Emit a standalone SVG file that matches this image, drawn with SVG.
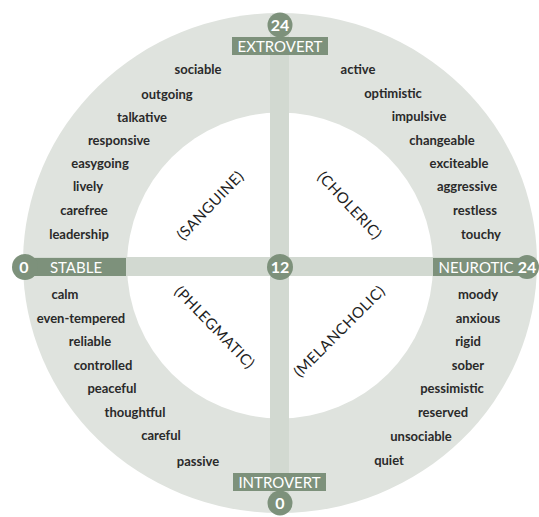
<svg xmlns="http://www.w3.org/2000/svg" width="539" height="517" viewBox="0 0 539 517">
<style>
.w{font-family:Lato,"Open Sans",sans-serif;font-size:13px;font-weight:bold;fill:#2a2a2a;text-anchor:middle}
.q{font-family:Lato,"Open Sans",sans-serif;font-size:15px;fill:#1e1e1e;text-anchor:middle;letter-spacing:0.5px}
.lab{font-family:Lato,"Open Sans",sans-serif;font-size:15px;fill:#fff;text-anchor:middle}
.num{font-family:Lato,"Open Sans",sans-serif;font-size:16px;font-weight:bold;fill:#fff;text-anchor:middle}
.dk{fill:#7d917b}
.band{fill:#d2d9d1}
</style>
<rect width="539" height="517" fill="#fff"/>
<g id="wheel">
<ellipse cx="280" cy="263" rx="257" ry="250" fill="#dfe3de"/>
<circle cx="280" cy="265.5" r="153" fill="#fff"/>
</g>
<g id="connectors">
<rect class="band" x="270" y="15" width="19" height="495"/>
<rect class="band" x="24" y="257" width="512" height="19"/>
</g>
<g id="extrovert">
<rect class="dk" x="232" y="37" width="96" height="18"/>
<circle class="dk" cx="280" cy="25" r="12.5"/>
<text class="num" x="280" y="30.5">24</text>
<text class="lab" x="280" y="51.5">EXTROVERT</text>
</g>
<g id="introvert">
<rect class="dk" x="233" y="473" width="93" height="18"/>
<circle class="dk" cx="280" cy="503" r="12.5"/>
<text class="lab" x="279.5" y="487.5">INTROVERT</text>
<text class="num" x="280" y="508.5">0</text>
</g>
<g id="stable">
<rect class="dk" x="25" y="258" width="101" height="18"/>
<circle class="dk" cx="25" cy="267" r="13"/>
<text class="num" x="24" y="272.5">0</text>
<text class="lab" x="76" y="272.5">STABLE</text>
</g>
<g id="neurotic">
<rect class="dk" x="433" y="258" width="96" height="18"/>
<circle class="dk" cx="527" cy="267" r="12"/>
<text class="lab" x="476" y="272.5">NEUROTIC</text>
<text class="num" x="527" y="272.5">24</text>
</g>
<g id="center">
<circle class="dk" cx="280" cy="267" r="13"/>
<text class="num" x="280" y="272.5">12</text>
</g>
<g id="sanguine">
<text class="q" transform="translate(214,209) rotate(-46)">(SANGUINE)</text>
<text class="w" x="198" y="74">sociable</text>
<text class="w" x="167" y="99">outgoing</text>
<text class="w" x="142" y="122">talkative</text>
<text class="w" x="119" y="145">responsive</text>
<text class="w" x="100" y="168">easygoing</text>
<text class="w" x="88" y="191">lively</text>
<text class="w" x="84" y="215">carefree</text>
<text class="w" x="79" y="239">leadership</text>
</g>
<g id="choleric">
<text class="q" transform="translate(346,209) rotate(47)">(CHOLERIC)</text>
<text class="w" x="358" y="74">active</text>
<text class="w" x="393" y="98">optimistic</text>
<text class="w" x="419" y="121">impulsive</text>
<text class="w" x="442" y="145">changeable</text>
<text class="w" x="459" y="168">exciteable</text>
<text class="w" x="467" y="191">aggressive</text>
<text class="w" x="475" y="215">restless</text>
<text class="w" x="481" y="239">touchy</text>
</g>
<g id="phlegmatic">
<text class="q" transform="translate(211,331) rotate(46)">(PHLEGMATIC)</text>
<text class="w" x="65" y="299">calm</text>
<text class="w" x="81" y="323">even-tempered</text>
<text class="w" x="90" y="346">reliable</text>
<text class="w" x="103" y="370">controlled</text>
<text class="w" x="112" y="393">peaceful</text>
<text class="w" x="135" y="417">thoughtful</text>
<text class="w" x="161" y="440">careful</text>
<text class="w" x="198" y="466">passive</text>
</g>
<g id="melancholic">
<text class="q" transform="translate(343,335) rotate(-45)">(MELANCHOLIC)</text>
<text class="w" x="478" y="299">moody</text>
<text class="w" x="478" y="323">anxious</text>
<text class="w" x="468" y="346">rigid</text>
<text class="w" x="468" y="370">sober</text>
<text class="w" x="452" y="393">pessimistic</text>
<text class="w" x="443" y="417">reserved</text>
<text class="w" x="421" y="441">unsociable</text>
<text class="w" x="389" y="465">quiet</text>
</g>
</svg>
